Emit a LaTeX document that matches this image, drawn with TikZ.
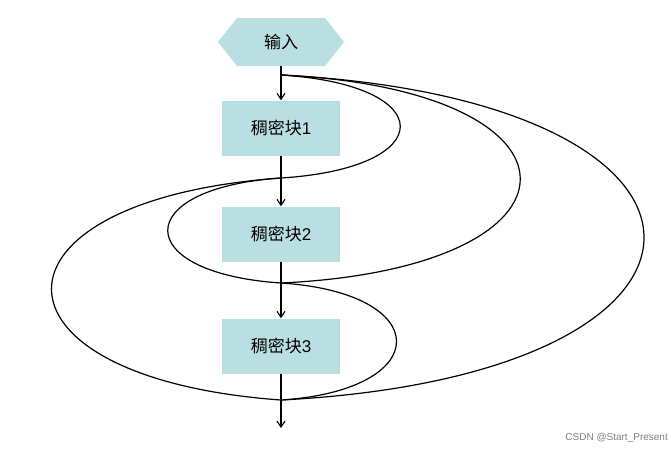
\documentclass[tikz,border=0pt]{standalone}
\usepackage{fontspec}
\setmainfont{Liberation Sans}
\newfontfamily\cjk{Noto Sans CJK SC}
\usetikzlibrary{arrows.meta}
\definecolor{boxc}{HTML}{B9DFE3}
\begin{document}
\begin{tikzpicture}[x=1pt,y=-1pt,
  blk/.style={fill=boxc,minimum width=118pt,minimum height=55pt,inner sep=0pt,font=\fontsize{17}{20}\selectfont},
  arr/.style={-{Straight Barb[length=6pt,width=8pt]},line width=1.1pt},
  crv/.style={line width=1.2pt}]
\useasboundingbox (0,0) rectangle (671,448);
\fill[boxc] (218,42)--(237,18)--(325,18)--(344,42)--(325,66)--(237,66)--cycle;
\node[font=\fontsize{17}{20}\selectfont,minimum height=48pt,inner sep=0pt] (in) at (281,42) {\cjk 输入};
\node[blk] (b1) at (281,128) {{\cjk 稠密块}1};
\node[blk] (b2) at (281,234) {{\cjk 稠密块}2};
\node[blk] (b3) at (281,346) {{\cjk 稠密块}3};
\coordinate (p0) at (281,75);
\coordinate (p1) at (281,178);
\coordinate (p2) at (281,283);
\coordinate (p3) at (281,400);
\coordinate (end) at (281,428);
\draw[arr] (in.south) -- (b1.north);
\draw[arr] (b1.south) -- (b2.north);
\draw[arr] (b2.south) -- (b3.north);
\draw[arr] (b3.south) -- (end);
\draw[crv] (p0) .. controls (440,85) and (440,168) .. (p1);
\draw[crv] (p0) .. controls (600,90) and (600,268) .. (p2);
\draw[crv] (p0) .. controls (765,100) and (765,375) .. (p3);
\draw[crv] (p2) .. controls (435,293) and (435,390) .. (p3);
\draw[crv] (p1) .. controls (130,188) and (130,273) .. (p2);
\draw[crv] (p1) .. controls (-25,200) and (-25,378) .. (p3);
\node[anchor=south east,font=\fontsize{10}{11}\selectfont,text=gray,inner sep=3pt] (wm) at (671,446) {CSDN @Start\_Present};
\end{tikzpicture}
\end{document}
